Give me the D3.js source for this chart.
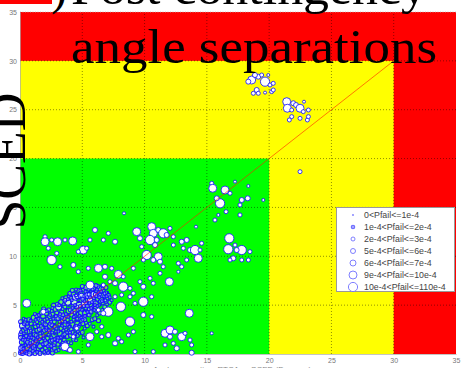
<!DOCTYPE html>
<html><head><meta charset="utf-8">
<script src="https://d3js.org/d3.v7.min.js"></script>
<style>body{margin:0;background:#fff}svg{display:block}</style>
</head><body><svg id="chart" width="461" height="368"></svg>
<script>
// Axis ticks (degrees)
const tickValues = [0, 5, 10, 15, 20, 25, 30, 35];

// Zone limits: green below 20, yellow below 30, red above
const zoneLimits = [20, 30, 35];
const zoneColors = ["#00ff00", "#ffff00", "#ff0000"];

// Pfail classes shown in the legend
const legendLabels = [
  "0<Pfail<=1e-4", "1e-4<Pfail<=2e-4", "2e-4<Pfail<=3e-4", "5e-4<Pfail<=6e-4",
  "6e-4<Pfail<=7e-4", "9e-4<Pfail<=10e-4", "10e-4<Pfail<=110e-4"
];

// [x, y, class] — dense group along the diagonal
const denseCluster = [
  [0.05,0.1,2],[0.1,0.4,1],[0.2,0.8,2],[0.15,1.2,3],[0.3,1.6,2],[0.1,2.0,3],[0.25,2.4,2],[0.2,2.9,4],[0.4,3.2,2],[0.35,0.3,3],[0.45,0.9,1],[0.4,1.4,2],[0.05,1.7,2],[0.3,2.1,1],[0.45,2.6,2],[0.1,0.6,3],[0.2,0.05,2],[0.4,0.15,1],
  [0.55,0.2,2],[0.6,0.6,3],[0.7,1.0,2],[0.65,1.5,1],[0.8,1.9,2],[0.75,2.3,3],[0.6,2.8,2],[0.9,3.1,2],[0.85,0.4,2],[0.95,0.8,1],[0.9,1.3,3],[0.55,1.8,2],[0.7,3.5,2],[0.8,2.6,1],[0.95,0.1,2],[0.6,1.2,2],[0.75,0.05,3],
  [1.05,0.3,2],[1.1,0.7,3],[1.2,1.1,2],[1.3,1.5,1],[1.15,2.0,2],[1.4,2.4,3],[1.25,2.8,2],[1.35,3.3,2],[1.1,3.7,3],[1.45,0.5,2],[1.4,1.0,1],[1.05,1.6,2],[1.3,1.9,2],[1.45,2.9,1],[1.2,0.05,2],[1.35,3.9,2],
  [1.55,0.2,2],[1.6,0.8,3],[1.7,1.3,2],[1.65,1.8,2],[1.8,2.2,1],[1.75,2.7,3],[1.9,3.1,2],[1.6,3.5,2],[1.85,3.9,3],[1.95,1.0,2],[1.9,1.6,1],[1.55,2.5,2],[1.7,4.2,2],[1.8,0.4,2],[1.95,2.4,2],
  [2.05,0.6,2],[2.1,1.1,3],[2.2,1.6,2],[2.3,2.0,1],[2.15,2.5,2],[2.4,2.9,3],[2.25,3.3,2],[2.35,3.8,2],[2.1,4.2,3],[2.45,1.3,2],[2.4,2.2,1],[2.05,3.0,2],[2.3,4.5,2],[2.2,0.3,2],[2.45,3.5,1],[2.35,0.9,2],
  [2.55,0.8,2],[2.6,1.4,2],[2.7,1.9,3],[2.65,2.4,1],[2.8,2.8,2],[2.75,3.3,2],[2.9,3.7,3],[2.6,4.1,2],[2.85,4.6,3],[2.95,1.6,2],[2.9,2.3,1],[2.55,3.0,2],[2.7,5.0,2],[2.8,1.1,2],[2.95,4.2,2],[2.6,0.4,2],
  [3.05,1.0,2],[3.1,1.6,2],[3.2,2.1,3],[3.3,2.6,2],[3.15,3.0,1],[3.4,3.4,2],[3.25,3.9,3],[3.35,4.3,2],[3.1,4.8,4],[3.45,1.9,2],[3.4,2.9,1],[3.05,3.6,2],[3.3,5.3,3],[3.2,1.3,2],[3.45,4.0,2],[3.0,5.1,2],
  [3.55,1.4,2],[3.6,2.0,2],[3.7,2.5,1],[3.65,3.0,3],[3.8,3.5,2],[3.75,3.9,2],[3.9,4.4,3],[3.6,4.8,2],[3.85,5.3,4],[3.95,2.3,2],[3.9,3.1,1],[3.55,3.6,2],[3.7,5.7,3],[3.8,1.8,2],[3.95,5.9,2],[3.6,5.5,2],
  [4.05,1.9,2],[4.1,2.5,2],[4.2,3.0,3],[4.3,3.5,1],[4.15,4.0,2],[4.4,4.4,3],[4.25,4.9,2],[4.35,5.3,4],[4.1,5.7,2],[4.45,2.8,2],[4.4,3.9,1],[4.05,4.5,2],[4.3,6.1,3],[4.2,2.2,2],[4.45,5.8,4],[4.0,6.2,2],
  [4.55,2.5,2],[4.6,3.1,3],[4.7,3.6,2],[4.65,4.1,1],[4.8,4.6,2],[4.75,5.0,4],[4.9,5.5,2],[4.6,5.9,3],[4.85,6.2,2],[4.95,3.4,2],[4.9,4.2,3],[4.55,4.8,2],[4.7,6.5,2],[4.8,3.0,1],[4.95,5.9,4],
  [5.05,3.1,2],[5.1,3.7,2],[5.2,4.2,3],[5.3,4.7,2],[5.15,5.1,4],[5.4,5.5,2],[5.25,5.9,3],[5.35,6.3,2],[5.1,6.6,2],[5.45,4.0,1],[5.4,4.9,2],[5.05,5.6,2],[5.3,6.8,3],[5.2,3.5,2],[5.45,6.0,4],
  [5.55,4.0,2],[5.6,4.5,3],[5.7,5.0,2],[5.65,5.5,4],[5.8,5.9,2],[5.75,6.3,3],[5.9,6.7,2],[5.6,6.9,2],[5.85,4.8,1],[5.95,5.4,2],[5.9,6.1,4],[5.55,6.1,2],[5.7,4.3,2],
  [6.05,4.7,2],[6.1,5.2,3],[6.2,5.6,2],[6.3,6.0,4],[6.15,6.4,2],[6.4,6.7,3],[6.25,6.9,2],[6.45,5.4,2],[6.35,5.0,1],[6.05,6.1,2],
  [6.55,5.6,2],[6.6,6.0,3],[6.7,6.4,2],[6.8,5.9,2],[6.9,6.2,3],[7.0,5.7,2],[7.1,6.0,2],[6.65,5.2,1]
];

// [x, y, class] — outer rim of the diagonal band
const denseEdge = [
  [2.3,0.2,1],[2.6,0.1,2],[2.9,0.3,1],[2.75,0.6,2],[3.1,0.4,1],[3.3,0.7,2],[3.5,0.5,1],[3.7,0.9,2],[3.9,1.2,1],[3.45,1.1,2],
  [4.1,1.1,1],[4.3,1.5,2],[4.5,1.4,1],[4.6,1.9,2],[4.8,2.1,1],[4.4,2.0,2],[5.0,2.2,2],[5.2,2.6,1],[5.4,2.9,2],[5.6,3.1,1],
  [5.8,3.5,2],[5.3,3.2,1],[6.0,3.6,2],[6.2,4.0,1],[6.4,4.2,2],[6.1,4.4,1],[6.6,4.5,1],[6.8,4.8,2],[7.0,5.1,1],[7.2,5.3,2],
  [7.35,5.5,1],[6.9,5.4,2],[4.2,6.5,2],[4.5,6.6,1],[5.0,6.9,2],[5.6,7.1,1],[6.1,7.0,2],[6.6,7.0,1],[6.9,6.8,2],[3.4,5.7,1],
  [2.6,4.7,1],[1.9,4.6,2],[1.2,4.1,1],[0.3,3.6,1],[5.9,2.8,1],[6.3,3.4,2],[5.1,1.7,1],[3.8,0.4,1],[2.0,0.05,1],[1.6,0.05,2]
];

// [x, y, class] — low-Pfail points filling the same diagonal band
const denseFill = [
  [0.02,0.25,1],[0.12,0.95,0],[0.22,1.45,1],[0.08,2.25,1],[0.18,2.65,0],[0.32,3.05,1],[0.05,3.3,2],[0.28,0.55,1],[0.38,1.1,0],[0.48,1.85,1],
  [0.5,2.3,1],[0.58,3.1,1],[0.62,0.35,0],[0.68,0.8,1],[0.72,1.7,1],[0.78,2.1,0],[0.82,1.1,1],[0.88,2.4,1],[0.92,1.7,1],[0.98,2.9,0],
  [0.15,0.2,1],[0.52,0.05,1],[0.85,3.4,1],[0.45,3.5,1],[0.25,1.9,0],
  [1.02,1.2,1],[1.08,2.3,1],[1.12,2.6,0],[1.18,3.1,1],[1.22,0.5,1],[1.28,1.3,1],[1.32,2.2,0],[1.38,0.2,1],[1.42,1.7,1],[1.48,3.6,1],
  [1.52,1.1,0],[1.58,1.5,1],[1.62,2.1,1],[1.68,2.9,1],[1.72,0.6,0],[1.78,3.3,1],[1.82,1.0,1],[1.88,1.9,1],[1.92,2.8,0],[1.98,3.5,1],
  [1.25,3.5,1],[1.5,4.0,1],[1.75,1.6,0],[1.15,0.85,1],[1.95,0.2,1],
  [2.02,1.4,1],[2.08,1.9,0],[2.12,2.7,1],[2.18,3.6,1],[2.22,0.8,1],[2.28,1.2,0],[2.32,2.4,1],[2.38,3.1,1],[2.42,4.0,1],[2.48,0.6,0],
  [2.52,1.7,1],[2.58,2.2,1],[2.62,2.7,0],[2.68,3.6,1],[2.72,0.9,1],[2.78,1.5,1],[2.82,3.0,0],[2.88,3.9,1],[2.92,2.6,1],[2.98,1.3,1],
  [2.15,4.4,1],[2.55,4.4,1],[2.25,0.1,1],[2.75,2.0,0],[2.5,3.3,1],
  [3.02,1.4,1],[3.08,2.3,1],[3.12,2.8,0],[3.18,3.3,1],[3.22,4.1,1],[3.28,1.7,1],[3.32,3.1,0],[3.38,3.7,1],[3.42,4.6,1],[3.48,2.4,1],
  [3.52,1.8,0],[3.58,2.7,1],[3.62,3.3,1],[3.68,4.1,1],[3.72,4.6,0],[3.78,2.2,1],[3.82,3.0,1],[3.88,3.8,1],[3.92,4.9,0],[3.98,2.8,1],
  [3.15,5.0,1],[3.5,5.1,1],[3.35,0.9,1],[3.65,1.2,1],[3.85,5.6,1],
  [4.02,2.2,1],[4.08,2.9,0],[4.12,3.3,1],[4.18,4.3,1],[4.22,4.7,1],[4.28,2.6,0],[4.32,3.8,1],[4.38,4.2,1],[4.42,5.0,1],[4.48,3.4,0],
  [4.52,2.9,1],[4.58,3.6,1],[4.62,4.5,1],[4.68,5.3,0],[4.72,2.8,1],[4.78,3.9,1],[4.82,4.9,1],[4.88,5.8,0],[4.92,3.7,1],[4.98,4.5,1],
  [4.15,5.5,1],[4.5,6.0,1],[4.35,1.9,1],[4.65,2.3,1],[4.85,6.5,1],
  [5.02,3.5,1],[5.08,4.4,0],[5.12,4.9,1],[5.18,5.4,1],[5.22,3.9,1],[5.28,4.4,0],[5.32,5.2,1],[5.38,5.8,1],[5.42,4.3,1],[5.48,5.3,0],
  [5.52,4.6,1],[5.58,5.2,1],[5.62,5.8,1],[5.68,6.3,0],[5.72,4.7,1],[5.78,5.3,1],[5.82,6.6,1],[5.88,5.0,0],[5.92,5.7,1],[5.98,4.5,1],
  [5.25,6.4,1],[5.5,6.6,1],
  [6.02,5.0,1],[6.08,5.5,0],[6.12,5.9,1],[6.18,6.6,1],[6.22,4.9,1],[6.28,5.3,0],[6.32,6.3,1],[6.38,5.8,1],[6.42,6.1,1],[6.48,5.0,0],
  [6.52,6.4,1],[6.58,5.4,1],[6.62,6.7,1],[6.72,5.7,0],[6.78,6.2,1],[6.85,5.5,1],[6.95,5.9,1],[7.05,6.3,0],[7.2,5.8,1]
];

// [x, y, class] — scattered points below 13 degrees on the left
const scatterNear = [
  [2.01,12.0,2],[2.01,11.49,5],[3.02,11.49,5],[2.54,11.67,2],[2.27,10.82,2],[3.61,11.67,2],[4.23,11.57,5],[5.08,10.64,5],[5.35,10.82,2],[4.68,10.47,2],
  [6.02,12.69,3],[5.62,11.67,2],[6.69,11.67,2],[7.63,11.49,3],[7.09,12.35,2],[2.95,10.3,2],[2.54,9.62,6],[3.21,8.93,2],[4.28,9.11,3],[5.48,8.77,2],
  [4.68,8.42,2],[6.29,8.77,5],[6.82,8.93,3],[7.36,8.77,2],[7.89,8.15,5],[8.29,7.91,2],[8.29,6.89,6],[6.82,7.91,3],[7.22,7.4,2],[7.63,7.24,3],
  [6.69,7.06,2],[8.83,6.72,2],[9.1,8.77,2],[8.16,6.04,2],[7.63,5.86,2],[0.54,5.19,5],[5.62,7.06,5],[1.87,4.33,3],[7.09,4.33,6],[6.29,4.5,2],
  [8.83,3.31,6],[7.09,1.94,3],[6.56,1.77,2],[5.62,1.77,5],[6.16,2.28,2],[7.63,1.09,3],[7.89,1.6,2],[8.7,1.94,2],[3.61,0.75,5],[4.01,0.41,3],
  [4.68,0.24,2],[4.28,1.77,2],[4.55,2.63,2],[6.56,2.8,2],[5.48,0.92,2],[9.23,0.24,2],[6.69,4.17,3]
];

// [x, y, class] — scattered points between 8 and 20 degrees
const scatterMid = [
  [15.39,17.47,2],[15.47,16.96,5],[16.46,16.78,5],[16.06,15.42,6],[15.79,15.93,3],[16.86,16.45,2],[17.26,17.64,1],[17.8,15.76,3],[18.28,15.93,3],[17.66,15.25,2],
  [18.33,17.19,1],[19.53,15.76,1],[17.66,14.23,2],[16.54,14.56,2],[15.65,13.71,2],[15.92,14.23,1],[8.35,14.4,1],
  [9.37,12.52,5],[9.63,11.84,3],[10.57,13.03,5],[10.7,12.35,5],[10.44,11.67,6],[11.1,12.69,3],[11.5,12.35,6],[11.77,12.18,3],[10.97,11.67,3],
  [10.84,11.15,3],[12.04,12.86,2],[12.31,12.0,2],[9.77,10.98,2],[10.17,10.13,6],[9.9,9.62,2],[11.1,9.96,5],[11.24,9.45,3],[10.7,9.62,3],[11.5,8.93,2],
  [12.98,11.49,3],[13.11,10.82,2],[13.38,11.67,3],[13.65,10.64,3],[14.05,10.64,6],[14.45,10.64,2],[14.31,9.79,5],[14.58,11.33,2],[13.38,9.62,2],[12.71,9.28,2],
  [12.98,8.93,2],[12.31,11.15,2],[14.13,13.03,1],
  [16.8,11.84,6],[16.72,10.72,6],[17.26,11.15,2],[17.8,10.64,6],[17.39,10.64,3],[17.12,9.79,3],[18.46,10.47,2],[17.8,9.62,2],[18.33,9.62,2],[16.86,9.62,2],
  [11.99,7.4,5],[12.71,8.42,1],[10.7,7.24,2],[10.44,7.75,2],[11.24,8.26,2],[9.63,7.4,2],[9.1,6.21,2],[9.9,6.89,3],[9.9,5.35,6],[8.83,5.86,2],
  [9.23,5.19,2],[10.57,5.86,2],[9.9,3.99,3],[8.1,4.84,6],[13.59,4.17,5],[10.57,3.82,2],[9.1,2.28,2],[8.16,1.26,2],
  [11.64,2.12,5],[12.04,2.46,5],[12.04,1.77,3],[12.44,2.28,3],[12.98,1.77,5],[13.25,2.12,2],[12.31,1.09,2],[12.58,0.58,3],[11.64,0.92,2],[13.78,0.92,2],
  [13.78,0.13,3],[13.65,1.43,2],[15.39,2.12,1],[10.7,0.24,2]
];

// [x, y, class] — points in the yellow zone
const scatterHigh = [
  [18.6,28.04,5],[19.13,28.38,3],[19.67,27.87,6],[19.4,28.55,2],[18.86,28.55,3],[20.07,27.53,2],[20.33,27.7,2],[19.93,28.55,1],[19.0,27.02,3],[18.73,26.68,2],
  [19.13,26.68,2],[19.67,26.75,1],[20.2,26.85,2],[20.33,27.02,2],[18.33,27.87,3],
  [21.41,25.82,5],[21.46,25.15,5],[21.94,25.66,3],[22.16,25.48,3],[22.48,25.15,5],[22.8,25.82,1],[23.15,24.97,2],[22.74,24.8,2],[21.81,24.97,2],[21.81,24.29,2],
  [21.62,23.95,2],[22.48,24.12,2],[23.07,23.95,2],[23.15,24.29,2],[22.48,18.66,2]
];

const svg = d3.select("#chart");

const x = d3.scaleLinear().domain([0, 35]).range([20, 456]);
const y = d3.scaleLinear().domain([0, 35]).range([354, 12]);
const radius = d3.scaleOrdinal().domain(d3.range(7)).range([0.6, 1.5, 2, 2.5, 3, 4, 4.6]);

// coloured zones, drawn from the outermost inwards
const zones = svg.append("g");
zoneLimits.slice().reverse().forEach((lim, i) => {
  const c = zoneColors[zoneColors.length - 1 - i];
  zones.append("rect")
    .attr("x", x(0)).attr("y", y(lim))
    .attr("width", x(lim) - x(0)).attr("height", y(0) - y(lim))
    .attr("fill", c);
});

// dotted grid
const grid = svg.append("g").attr("stroke", "#000").attr("stroke-opacity", 0.55)
  .attr("stroke-width", 0.8).attr("stroke-dasharray", "1,2");
tickValues.filter(t => t > 0 && t < 35).forEach(t => {
  grid.append("line").attr("x1", x(t)).attr("x2", x(t)).attr("y1", y(0)).attr("y2", y(35));
  grid.append("line").attr("x1", x(0)).attr("x2", x(35)).attr("y1", y(t)).attr("y2", y(t));
});
svg.append("line").attr("x1", x(0)).attr("x2", x(35)).attr("y1", y(35)).attr("y2", y(35))
  .attr("stroke", "#bbb").attr("stroke-width", 0.8).attr("stroke-dasharray", "1,1.5");

// axes
const xAxis = d3.axisBottom(x).tickValues(tickValues).tickSize(0).tickPadding(4);
const yAxis = d3.axisLeft(y).tickValues(tickValues).tickSize(0).tickPadding(3);
const gx = svg.append("g").attr("transform", `translate(0,${y(0)})`).call(xAxis);
const gy = svg.append("g").attr("transform", `translate(${x(0)},0)`).call(yAxis);
[gx, gy].forEach(g => {
  g.select(".domain").attr("stroke", "#aaa").attr("stroke-width", 0.7);
  g.selectAll("text").attr("fill", "#777").attr("font-size", 7)
    .attr("font-family", "Liberation Sans, Arial, sans-serif");
});

// dense band: translucent rings so the overlaps build up blue
const denseAll = denseCluster.concat(denseEdge, denseFill);
svg.append("g").selectAll("circle").data(denseAll).join("circle")
  .attr("cx", d => x(d[0])).attr("cy", d => y(d[1]))
  .attr("r", d => radius(d[2]))
  .attr("fill", "#fff").attr("fill-opacity", d => d[2] >= 4 ? 0.75 : 0.35)
  .attr("stroke", "#1515ff").attr("stroke-width", 1.05);

// scattered points, opaque white discs
const scatterAll = scatterNear.concat(scatterMid, scatterHigh);
svg.append("g").selectAll("circle").data(scatterAll).join("circle")
  .attr("cx", d => x(d[0])).attr("cy", d => y(d[1]))
  .attr("r", d => radius(d[2]))
  .attr("fill", "#fff").attr("stroke", "#1515ff").attr("stroke-width", 0.85);

// reference diagonal
svg.append("line")
  .attr("x1", x(0)).attr("y1", y(0)).attr("x2", x(30)).attr("y2", y(30))
  .attr("stroke", "#ff2000").attr("stroke-opacity", 0.6).attr("stroke-width", 1);

// legend
const lg = svg.append("g");
lg.append("rect").attr("x", 336.5).attr("y", 207.5).attr("width", 118).attr("height", 84)
  .attr("fill", "#fff").attr("stroke", "#999").attr("stroke-width", 1);
legendLabels.forEach((lab, i) => {
  const yy = 215 + i * 12;
  lg.append("circle").attr("cx", 353).attr("cy", yy).attr("r", radius(i))
    .attr("fill", "#fff").attr("stroke", "#7070ff").attr("stroke-width", i === 1 ? 1.6 : 0.9);
  lg.append("text").attr("x", 364).attr("y", yy).attr("dy", "0.35em")
    .attr("font-size", 8.8).attr("fill", "#444")
    .attr("font-family", "Liberation Sans, Arial, sans-serif").text(lab);
});

// x-axis caption, sitting mostly below the frame
svg.append("text").attr("x", 232).attr("y", 372).attr("text-anchor", "middle")
  .attr("font-size", 8).attr("fill", "#888")
  .attr("font-family", "Liberation Sans, Arial, sans-serif")
  .text("Angle separation, RTCA vs SCED (Degrees)");

// title and y label
const serif = "Liberation Serif, Times New Roman, serif";
svg.append("rect").attr("x", 0).attr("y", 0).attr("width", 52).attr("height", 4).attr("fill", "#ff0000");
svg.append("text").attr("x", 51).attr("y", 3.5).attr("font-size", 48).attr("font-family", serif).text(")");
svg.append("text").attr("x", 71).attr("y", 3.5).attr("font-size", 48).attr("font-family", serif)
  .attr("textLength", 356).attr("lengthAdjust", "spacingAndGlyphs").text("Post contingency");
svg.append("text").attr("x", 71).attr("y", 63).attr("font-size", 48).attr("font-family", serif)
  .attr("textLength", 366).attr("lengthAdjust", "spacingAndGlyphs").text("angle separations");
svg.append("text").attr("transform", "translate(25,161) rotate(-90)")
  .attr("text-anchor", "middle").attr("font-size", 52).attr("font-family", serif)
  .attr("textLength", 137).attr("lengthAdjust", "spacingAndGlyphs").text("SCED");
</script></body></html>
